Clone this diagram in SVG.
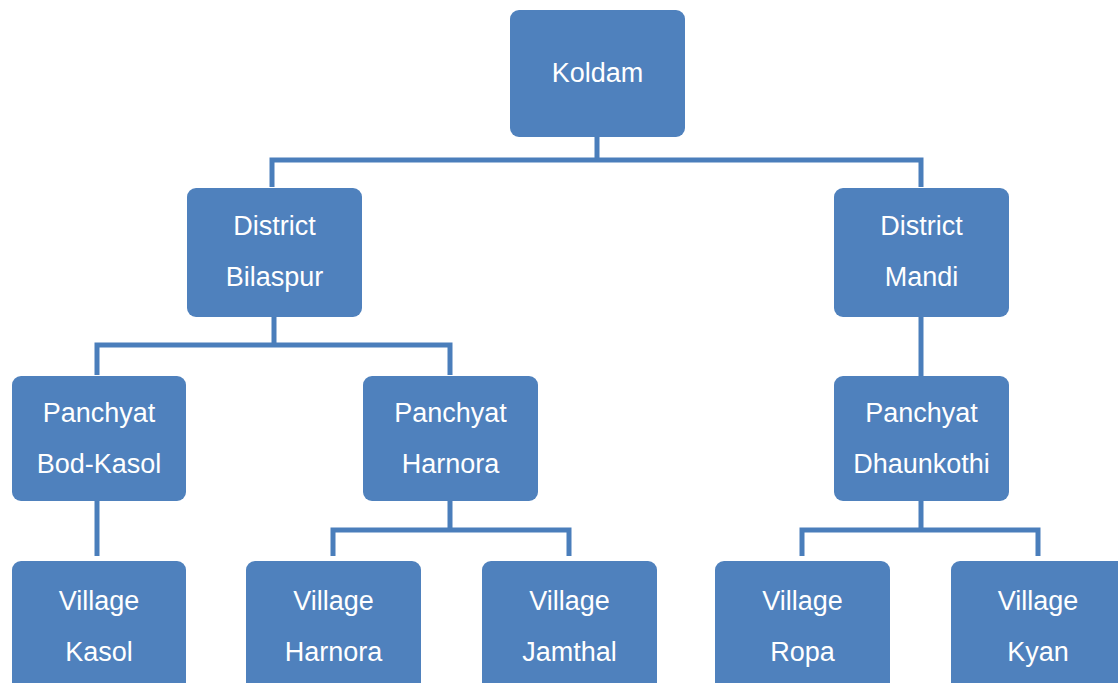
<svg xmlns="http://www.w3.org/2000/svg" width="1118" height="683" viewBox="0 0 1118 683">
<style>
.box{fill:#4F81BD;}
.t{fill:#FFFFFF;font-family:"Liberation Sans",Arial,sans-serif;font-size:27px;text-anchor:middle;}
.c{fill:none;stroke:#4A7EBB;stroke-width:5;stroke-linejoin:miter;}
</style>
<rect width="1118" height="683" fill="#FFFFFF"/>
<g id="connectors">
<path class="c" d="M597,137 V160 M272,187 V160 H921 V187"/>
<path class="c" d="M274,317 V345 M97,375 V345 H450 V375"/>
<path class="c" d="M921,317 V376"/>
<path class="c" d="M97,501 V556"/>
<path class="c" d="M450,501 V530 M333,556 V530 H569 V556"/>
<path class="c" d="M921,501 V530 M802,556 V530 H1038 V556"/>
</g>
<g id="koldam"><rect class="box" x="510" y="10" width="175" height="127" rx="9"/><text class="t" x="597.5" y="82">Koldam</text></g>
<g id="district-bilaspur"><rect class="box" x="187" y="188" width="175" height="129" rx="9"/><text class="t" x="274.5" y="235">District</text><text class="t" x="274.5" y="286">Bilaspur</text></g>
<g id="district-mandi"><rect class="box" x="834" y="188" width="175" height="129" rx="9"/><text class="t" x="921.5" y="235">District</text><text class="t" x="921.5" y="286">Mandi</text></g>
<g id="panchyat-bod-kasol"><rect class="box" x="12" y="376" width="174" height="125" rx="9"/><text class="t" x="99" y="422">Panchyat</text><text class="t" x="99" y="473">Bod-Kasol</text></g>
<g id="panchyat-harnora"><rect class="box" x="363" y="376" width="175" height="125" rx="9"/><text class="t" x="450.5" y="422">Panchyat</text><text class="t" x="450.5" y="473">Harnora</text></g>
<g id="panchyat-dhaunkothi"><rect class="box" x="834" y="376" width="175" height="125" rx="9"/><text class="t" x="921.5" y="422">Panchyat</text><text class="t" x="921.5" y="473">Dhaunkothi</text></g>
<g id="village-kasol"><rect class="box" x="12" y="561" width="174" height="130" rx="9"/><text class="t" x="99" y="610">Village</text><text class="t" x="99" y="661">Kasol</text></g>
<g id="village-harnora"><rect class="box" x="246" y="561" width="175" height="130" rx="9"/><text class="t" x="333.5" y="610">Village</text><text class="t" x="333.5" y="661">Harnora</text></g>
<g id="village-jamthal"><rect class="box" x="482" y="561" width="175" height="130" rx="9"/><text class="t" x="569.5" y="610">Village</text><text class="t" x="569.5" y="661">Jamthal</text></g>
<g id="village-ropa"><rect class="box" x="715" y="561" width="175" height="130" rx="9"/><text class="t" x="802.5" y="610">Village</text><text class="t" x="802.5" y="661">Ropa</text></g>
<g id="village-kyan"><rect class="box" x="951" y="561" width="175" height="130" rx="9"/><text class="t" x="1038" y="610">Village</text><text class="t" x="1038" y="661">Kyan</text></g>
</svg>
